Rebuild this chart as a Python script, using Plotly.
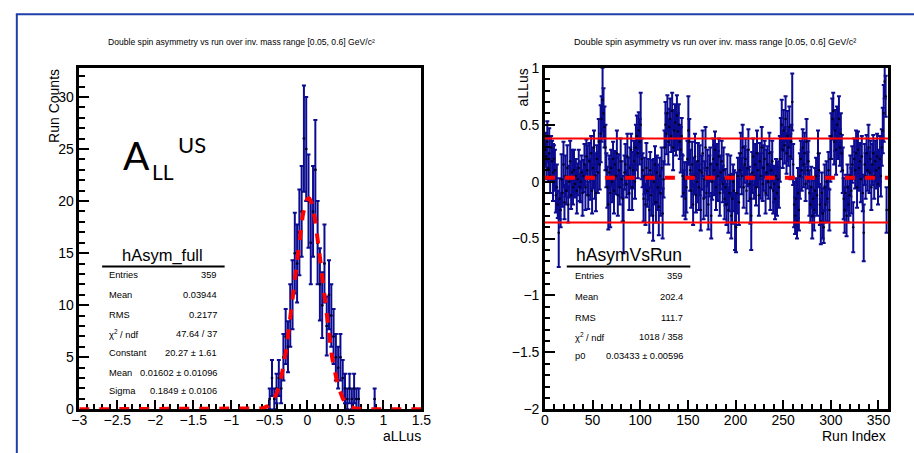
import numpy as np
import plotly.graph_objects as go

W, H = 914, 453
FONT = "Liberation Sans, Arial, Helvetica, sans-serif"
NAVY = "#0c0c90"

# ---------------- data: left histogram (aLLus) ----------------
hist_bin_width = 0.03
hist_first_center = -0.495
hist_counts = [1, 3, 1, 2, 3, 2, 5, 7, 6, 9,
               11, 15, 14, 17, 19, 26, 25, 20, 16, 19,
               23, 16, 12, 10, 14, 8, 11, 9, 7, 5,
               4, 5, 3, 2, 1, 2, 1, 2, 1, 1,
               0, 0, 0, 0, 0, 0, 1]
fit_const, fit_mean, fit_sigma = 20.27, 0.01602, 0.1849
left_stats_labels = ["Entries", "Mean", "RMS", "χ<sup>2</sup> / ndf", "Constant", "Mean", "Sigma"]
left_stats_values = ["359", "0.03944", "0.2177", "47.64 / 37", "20.27 ± 1.61",
                     "0.01602 ± 0.01096", "0.1849 ± 0.0106"]

# ---------------- data: right panel (aLLus vs run) ----------------
run_values = [
    0.28, 0.22, 0.35, 0.12, 0.25, 0.05, 0.30, 0.18, 0.08, 0.20,
    0.10, -0.12, -0.05, -0.20, -0.45, -0.15, -0.25, 0.02, -0.10, 0.15,
    -0.18, 0.05, -0.08, 0.12, -0.20, 0.00, 0.18, -0.12, 0.08, -0.05,
    0.10, -0.02, 0.05, -0.08, 0.02, 0.12, -0.05, 0.00, 0.08, -0.10,
    0.05, 0.15, -0.05, 0.22, 0.10, -0.12, 0.18, 0.02, 0.25, -0.08,
    0.12, 0.30, 0.05, -0.10, 0.20, 0.08, 0.35, 0.15, 0.42, 0.55,
    0.72, 0.60, 0.48, 0.30, 0.10, -0.05, -0.20, 0.08, -0.10, 0.12,
    0.00, 0.20, -0.08, 0.15, 0.05, 0.25, -0.12, 0.10, -0.05, 0.18,
    0.02, -0.15, -0.35, 0.08, 0.15, -0.02, 0.22, 0.05, -0.10, 0.12,
    0.28, -0.05, 0.10, 0.18, 0.00, 0.30, 0.40, 0.25, 0.45, 0.35,
    0.50, 0.20, 0.10, -0.15, 0.05, -0.20, 0.12, -0.08, 0.02, -0.25,
    0.10, -0.12, 0.05, -0.30, 0.00, 0.15, -0.18, 0.08, -0.05, -0.22,
    0.05, -0.10, 0.12, -0.28, 0.02, 0.30, 0.50, 0.42, 0.60, 0.35,
    0.48, 0.55, 0.40, 0.62, 0.30, 0.45, 0.52, 0.38, 0.58, 0.44,
    0.50, 0.35, 0.28, 0.40, 0.05, -0.10, 0.02, -0.15, -0.05, 0.20,
    0.45, 0.35, 0.10, -0.08, 0.15, -0.20, 0.05, 0.22, -0.12, 0.00,
    0.18, -0.05, 0.10, -0.25, 0.08, 0.25, -0.15, 0.02, 0.30, -0.10,
    0.12, -0.20, 0.05, 0.15, -0.30, 0.00, 0.20, 0.10, 0.28, -0.05,
    0.15, 0.05, 0.22, -0.10, 0.08, 0.18, -0.02, 0.10, -0.15, -0.05,
    -0.20, 0.02, -0.25, -0.10, 0.05, -0.30, -0.15, 0.00, -0.08, -0.35,
    -0.40, -0.10, 0.05, -0.18, 0.10, 0.25, 0.05, 0.30, -0.05, 0.15,
    0.20, -0.08, 0.12, 0.28, -0.02, -0.15, -0.30, 0.08, 0.22, 0.05,
    0.15, -0.05, 0.25, 0.10, -0.12, 0.18, 0.05, 0.30, -0.02, 0.12,
    0.20, -0.10, 0.08, 0.15, 0.00, 0.25, -0.05, 0.10, 0.18, -0.08,
    -0.02, -0.15, 0.05, -0.10, 0.02, -0.05, 0.20, 0.38, 0.50, 0.28,
    0.45, 0.32, 0.55, 0.25, 0.40, 0.30, 0.48, 0.22, 0.35, 0.70,
    0.15, -0.20, -0.30, -0.15, -0.35, -0.10, -0.25, 0.05, 0.20, 0.10,
    0.30, 0.15, 0.25, -0.02, 0.35, 0.10, 0.18, -0.10, -0.20, -0.05,
    -0.30, -0.15, -0.25, -0.08, 0.05, -0.12, 0.25, 0.10, -0.20, -0.35,
    -0.10, -0.28, -0.40, -0.05, -0.20, 0.00, -0.15, 0.10, -0.25, 0.20,
    0.40, 0.55, 0.62, 0.35, 0.45, 0.28, 0.50, 0.38, 0.55, 0.30,
    0.42, 0.25, 0.10, -0.15, -0.25, -0.10, -0.30, -0.05, -0.20, -0.12,
    0.05, -0.08, 0.15, -0.40, 0.20, 0.10, 0.25, -0.05, 0.28, 0.12,
    0.18, 0.02, 0.22, -0.10, -0.45, 0.15, 0.05, 0.25, 0.10, 0.30,
    0.08, 0.20, -0.05, 0.15, 0.25, 0.05, 0.18, 0.10, 0.22, -0.02,
    0.12, 0.20, 0.05, 0.30, 0.45, 0.60, 0.88, 0.75, -0.25]
run_errors = [
    0.15, 0.20, 0.18, 0.12, 0.22, 0.15, 0.10, 0.18, 0.25, 0.12,
    0.18, 0.15, 0.20, 0.12, 0.30, 0.18, 0.15, 0.22, 0.12, 0.20,
    0.15, 0.18, 0.12, 0.20, 0.16, 0.14, 0.18, 0.12, 0.20, 0.15,
    0.18, 0.12, 0.15, 0.20, 0.14, 0.16, 0.12, 0.18, 0.15, 0.20,
    0.14, 0.18, 0.20, 0.15, 0.22, 0.12, 0.16, 0.18, 0.15, 0.20,
    0.18, 0.15, 0.20, 0.16, 0.12, 0.18, 0.20, 0.22, 0.25, 0.20,
    0.28, 0.22, 0.18, 0.20, 0.15, 0.18, 0.22, 0.15, 0.30, 0.16,
    0.18, 0.15, 0.20, 0.12, 0.16, 0.20, 0.18, 0.14, 0.15, 0.20,
    0.16, 0.20, 0.28, 0.15, 0.18, 0.12, 0.20, 0.16, 0.15, 0.18,
    0.14, 0.20, 0.16, 0.18, 0.15, 0.20, 0.18, 0.22, 0.16, 0.20,
    0.28, 0.18, 0.15, 0.20, 0.16, 0.18, 0.22, 0.14, 0.18, 0.20,
    0.16, 0.18, 0.14, 0.22, 0.20, 0.16, 0.18, 0.15, 0.20, 0.25,
    0.16, 0.20, 0.18, 0.22, 0.16, 0.15, 0.20, 0.18, 0.16, 0.20,
    0.16, 0.18, 0.14, 0.16, 0.20, 0.18, 0.16, 0.15, 0.18, 0.16,
    0.18, 0.15, 0.20, 0.16, 0.18, 0.20, 0.15, 0.18, 0.22, 0.16,
    0.30, 0.20, 0.18, 0.15, 0.20, 0.18, 0.16, 0.20, 0.15, 0.18,
    0.16, 0.20, 0.22, 0.18, 0.15, 0.20, 0.18, 0.16, 0.18, 0.20,
    0.16, 0.22, 0.18, 0.15, 0.20, 0.16, 0.18, 0.22, 0.16, 0.20,
    0.18, 0.22, 0.16, 0.20, 0.15, 0.18, 0.16, 0.20, 0.18, 0.16,
    0.18, 0.22, 0.20, 0.16, 0.18, 0.20, 0.22, 0.15, 0.18, 0.25,
    0.22, 0.18, 0.16, 0.20, 0.15, 0.18, 0.16, 0.20, 0.18, 0.16,
    0.18, 0.20, 0.16, 0.18, 0.15, 0.22, 0.30, 0.18, 0.16, 0.20,
    0.18, 0.16, 0.20, 0.15, 0.18, 0.16, 0.20, 0.18, 0.15, 0.20,
    0.16, 0.18, 0.20, 0.16, 0.15, 0.18, 0.20, 0.16, 0.18, 0.20,
    0.16, 0.18, 0.15, 0.20, 0.16, 0.18, 0.20, 0.18, 0.22, 0.16,
    0.18, 0.16, 0.20, 0.18, 0.22, 0.16, 0.18, 0.20, 0.15, 0.25,
    0.18, 0.20, 0.16, 0.18, 0.15, 0.22, 0.18, 0.20, 0.16, 0.18,
    0.16, 0.20, 0.18, 0.15, 0.20, 0.16, 0.18, 0.20, 0.16, 0.18,
    0.20, 0.16, 0.18, 0.20, 0.16, 0.18, 0.20, 0.15, 0.18, 0.20,
    0.18, 0.22, 0.14, 0.20, 0.16, 0.18, 0.20, 0.16, 0.18, 0.20,
    0.20, 0.18, 0.16, 0.20, 0.18, 0.22, 0.16, 0.18, 0.20, 0.16,
    0.18, 0.16, 0.20, 0.18, 0.20, 0.16, 0.18, 0.20, 0.16, 0.18,
    0.18, 0.20, 0.16, 0.22, 0.18, 0.16, 0.20, 0.18, 0.16, 0.20,
    0.16, 0.20, 0.18, 0.16, 0.25, 0.18, 0.20, 0.16, 0.18, 0.20,
    0.18, 0.16, 0.20, 0.18, 0.16, 0.20, 0.18, 0.16, 0.20, 0.18,
    0.16, 0.20, 0.18, 0.16, 0.20, 0.25, 0.15, 0.18, 0.20]
fit_p0 = 0.03433
band_upper, band_lower = 0.38, -0.36
right_stats_labels = ["Entries", "Mean", "RMS", "χ<sup>2</sup> / ndf", "p0"]
right_stats_values = ["359", "202.4", "111.7", "1018 / 358", "0.03433 ± 0.00596"]

title_text = "Double spin asymmetry vs run over inv. mass range [0.05, 0.6] GeV/c²"


def px(x):
    return x / W


def py(y):
    return 1 - y / H


fig = go.Figure()

# ---- left histogram ----
centers = [hist_first_center + k * hist_bin_width for k in range(len(hist_counts))]
hx = [c for c, n in zip(centers, hist_counts) if n > 0]
hy = [n for n in hist_counts if n > 0]
he = [float(np.sqrt(n)) for n in hy]
fig.add_trace(go.Scatter(
    x=hx, y=hy, mode="markers", xaxis="x", yaxis="y",
    marker=dict(size=2.5, color="#000022"),
    error_y=dict(type="data", array=he, visible=True, color=NAVY, thickness=2, width=2),
    error_x=dict(type="constant", value=hist_bin_width / 2, visible=True, color=NAVY,
                 thickness=2, width=0),
    showlegend=False, hoverinfo="skip"))
gx = np.linspace(-3, 1.5, 600)
gy = fit_const * np.exp(-0.5 * ((gx - fit_mean) / fit_sigma) ** 2)
fig.add_trace(go.Scatter(
    x=gx, y=gy, mode="lines", xaxis="x", yaxis="y",
    line=dict(color="#ff0000", width=4, dash="10px,10px"),
    showlegend=False, hoverinfo="skip"))

# ---- right panel ----
rx = [i + 0.5 for i in range(len(run_values))]
fig.add_trace(go.Scatter(
    x=rx, y=run_values, mode="markers", xaxis="x2", yaxis="y2",
    marker=dict(size=2.5, color="#000022"),
    error_y=dict(type="data", array=run_errors, visible=True, color=NAVY, thickness=2, width=2),
    showlegend=False, hoverinfo="skip"))
for yv in (band_upper, band_lower):
    fig.add_trace(go.Scatter(
        x=[0, 360], y=[yv, yv], mode="lines", xaxis="x2", yaxis="y2",
        line=dict(color="#ff0000", width=2),
        showlegend=False, hoverinfo="skip"))
fig.add_trace(go.Scatter(
    x=[0, 360], y=[fit_p0, fit_p0], mode="lines", xaxis="x2", yaxis="y2",
    line=dict(color="#ff0000", width=4, dash="10px,10px"),
    showlegend=False, hoverinfo="skip"))

axis_common = dict(showline=True, linecolor="black", linewidth=2.5, mirror=True,
                   ticks="inside", ticklen=10, tickwidth=2, tickcolor="black",
                   showgrid=False, zeroline=False,
                   tickfont=dict(family=FONT, size=14, color="black"))
minor_common = dict(ticks="inside", ticklen=5.5, tickwidth=2, tickcolor="black")

y_dom = [py(416), py(62)]
fig.update_layout(
    width=W, height=H, margin=dict(l=0, r=0, t=0, b=0),
    paper_bgcolor="white", plot_bgcolor="white",
    xaxis=dict(domain=[px(72.7), px(421.7)], range=[-3, 1.5], tick0=-3, dtick=0.5,
               anchor="y", layer="below traces", minor=dict(dtick=0.1, **minor_common),
               ticklabelstandoff=-4, **axis_common),
    yaxis=dict(domain=y_dom, range=[0, 32.8], tick0=0, dtick=5, anchor="x",
               minor=dict(dtick=1, **minor_common), **axis_common),
    xaxis2=dict(domain=[px(547.7), px(897.7)], range=[0, 360], tick0=0, dtick=50,
                anchor="y2", minor=dict(dtick=10, **minor_common),
                ticklabelstandoff=-4, **axis_common),
    yaxis2=dict(domain=y_dom, range=[-2, 1], tick0=-2, dtick=0.5, anchor="x2",
                minor=dict(dtick=0.1, **minor_common), **axis_common),
)

ann = []


def text(x, y, s, size, xanchor="left", yanchor="middle", angle=0, family=FONT):
    ann.append(dict(x=px(x), y=py(y), xref="paper", yref="paper", text=s, showarrow=False,
                    xanchor=xanchor, yanchor=yanchor, textangle=angle, borderpad=0,
                    font=dict(family=family, size=size, color="black")))


# titles
text(238, 35, title_text, 8.6, xanchor="center")
text(721, 35, title_text, 9.1, xanchor="center")
# axis titles
text(47, 62, "Run Counts", 14, xanchor="center", yanchor="top", angle=-90)
text(422, 444, "aLLus", 14, xanchor="right")
text(525, 62, "aLLus", 14, xanchor="center", yanchor="top", angle=-90)
text(897, 444, "Run Index", 14, xanchor="right")
# A_LL^US
text(116, 152, "A", 39, family="Lato, sans-serif")
text(146, 169, "LL", 21, family="Lato, sans-serif")
text(172, 141, "US", 22, family="Lato, sans-serif")

# left stats box
text(158, 257, "hAsym_full", 16.5, xanchor="center")
left_rows_y = [277, 297, 318, 338, 358, 378, 397]
for lab, val, yy in zip(left_stats_labels, left_stats_values, left_rows_y):
    text(102, yy, lab, 9.3)
    text(214, yy, val, 9.3, xanchor="right")

# right stats box
text(633, 256, "hAsymVsRun", 17.5, xanchor="center")
right_rows_y = [278, 300, 321, 341, 361]
for lab, val, yy in zip(right_stats_labels, right_stats_values, right_rows_y):
    text(577, yy, lab, 9.3)
    text(689.5, yy, val, 9.3, xanchor="right")

shapes = [
    dict(type="line", xref="paper", yref="paper", x0=px(96), x1=px(221), y0=py(268), y1=py(268),
         line=dict(color="black", width=2)),
    dict(type="line", xref="paper", yref="paper", x0=px(570), x1=px(696), y0=py(268), y1=py(268),
         line=dict(color="black", width=2)),
    # canvas frame
    dict(type="line", xref="paper", yref="paper", x0=px(9), x1=px(9), y0=py(6.5), y1=-0.1,
         line=dict(color="#1f3fa8", width=2)),
    dict(type="line", xref="paper", yref="paper", x0=px(8), x1=1.1, y0=py(6.5), y1=py(6.5),
         line=dict(color="#1f3fa8", width=2)),
]
fig.update_layout(annotations=ann, shapes=shapes)

fig.write_html("out.html")
